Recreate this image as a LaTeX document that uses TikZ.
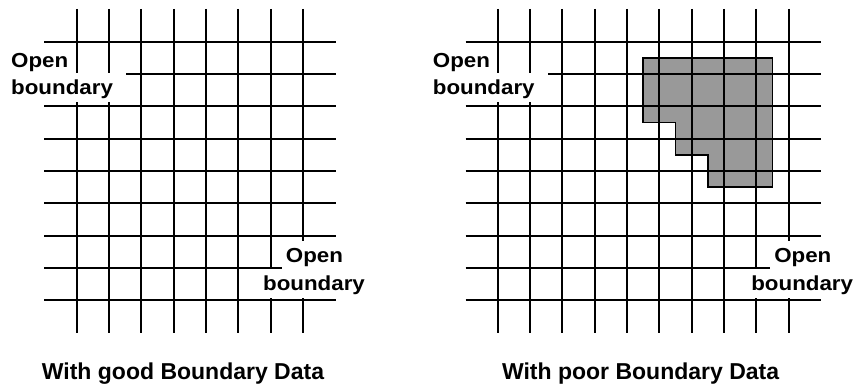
\documentclass[tikz,border=0pt]{standalone}
\usepackage{fontspec}
\setmainfont{Liberation Sans}
\definecolor{regiongray}{RGB}{153,153,153}
\newcommand{\widetext}[1]{\scalebox{1.1}[1]{#1}}
\tikzset{
  gridline/.style={line width=1.8pt, black},
  outline/.style={line width=1.8pt, black, line join=miter},
  lbl/.style={font=\fontsize{20.3}{24}\selectfont\bfseries, fill=white, inner xsep=4pt, inner ysep=4pt, text height=17.5pt, text depth=4pt},
  caption/.style={font=\fontsize{23}{27}\selectfont\bfseries, inner sep=0pt}
}
\begin{document}
\begin{tikzpicture}[x=1pt,y=-1pt]
\useasboundingbox (0,0) rectangle (858,385);
\fill[white] (0,0) rectangle (858,385);
% gray region (right grid)
\fill[regiongray] (643.2,57.9) -- (772.5,57.9) -- (772.5,187.2) -- (707.9,187.2) -- (707.9,154.9) -- (675.5,154.9) -- (675.5,122.5) -- (643.2,122.5) -- cycle;
% left grid
\foreach \i in {0,...,7} {
  \draw[gridline] ({76.7+32.33*\i},9) -- ({76.7+32.33*\i},333);
}
\foreach \j in {0,...,8} {
  \draw[gridline] (44,{41.7+32.33*\j}) -- (336,{41.7+32.33*\j});
}
% right grid
\foreach \i in {0,...,9} {
  \draw[gridline] ({497.7+32.33*\i},9) -- ({497.7+32.33*\i},333);
}
\foreach \j in {0,...,8} {
  \draw[gridline] (465.7,{41.7+32.33*\j}) -- (821,{41.7+32.33*\j});
}
\draw[outline] (643.2,57.9) -- (772.5,57.9) -- (772.5,187.2) -- (707.9,187.2) -- (707.9,154.9) -- (675.5,154.9) -- (675.5,122.5) -- (643.2,122.5) -- cycle;
% labels left grid
\node[lbl, anchor=base west, text height=14.8pt, inner ysep=3pt] (lo1) at (7,68) {\widetext{Open}};
\node[lbl, anchor=base west, inner xsep=13pt] (lb1) at (-2,94.5) {\widetext{boundary}};
\node[lbl, anchor=base] (lo2) at (314.5,262.5) {\widetext{Open}};
\node[lbl, anchor=base] (lb2) at (314,290) {\widetext{boundary}};
% labels right grid
\node[lbl, anchor=base west, text height=14.8pt, inner ysep=3pt] (ro1) at (428.7,68) {\widetext{Open}};
\node[lbl, anchor=base west, inner xsep=13pt] (rb1) at (419.7,94.5) {\widetext{boundary}};
\node[lbl, anchor=base] (ro2) at (802.8,262.5) {\widetext{Open}};
\node[lbl, anchor=base] (rb2) at (802.2,290) {\widetext{boundary}};
% captions
\node[caption, anchor=base] (capl) at (183,379) {With good Boundary Data};
\node[caption, anchor=base] (capr) at (640.6,379) {With poor Boundary Data};
\end{tikzpicture}
\end{document}
